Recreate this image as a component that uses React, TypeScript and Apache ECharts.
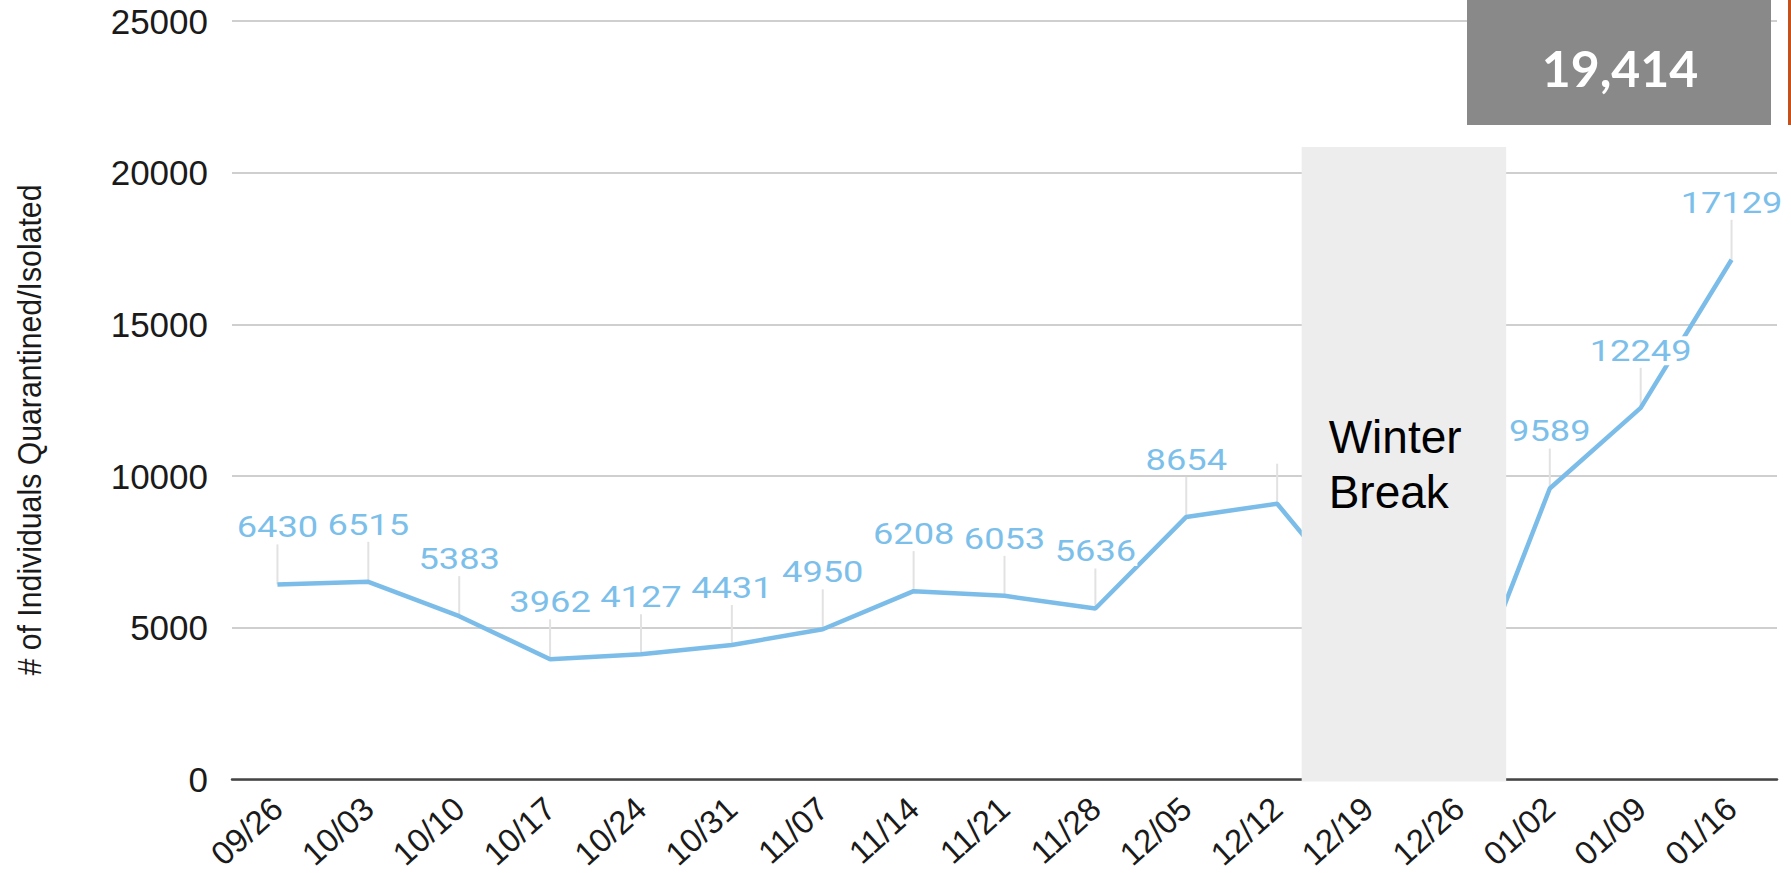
import React, { useEffect, useRef } from "react";
import * as echarts from "echarts";

const categories = ["09/26", "10/03", "10/10", "10/17", "10/24", "10/31", "11/07", "11/14", "11/21", "11/28", "12/05", "12/12", "12/19", "12/26", "01/02", "01/09", "01/16"];
const values = [6430, 6515, 5383, 3962, 4127, 4431, 4950, 6208, 6053, 5636, 8654, 9090, 5470, 1880, 9589, 12249, 17129];
const labelShown = [true, true, true, true, true, true, true, true, true, true, true, false, false, false, true, true, true];
const yMin = 0;
const yMax = 25000;
const yInterval = 5000;
const totalText = "19,414";
const axisTitle = "# of Individuals Quarantined/Isolated";
const breakText = "Winter\nBreak";
// winter break band, in category-index units and value units
const breakFrom = 11.27;
const breakTo = 13.52;
const breakTop = 20850;

export default function App() {
  const ref = useRef<HTMLDivElement>(null);
  useEffect(() => {
    document.body.style.margin = "0";
    document.body.style.overflow = "hidden";
    const chart = echarts.init(ref.current!, null, { renderer: "svg" });
    const n = categories.length;
    const option: any = {
      animation: false,
      backgroundColor: "#ffffff",
      grid: { left: 232, top: 21, width: 1545, height: 759, containLabel: false },
      xAxis: [
        {
          type: "category",
          data: categories,
          boundaryGap: true,
          axisLine: { show: true, lineStyle: { color: "#454545", width: 2.5 } },
          axisTick: { show: false },
          axisLabel: { rotate: 42, fontSize: 33, color: "#1a1a1a", margin: 24, fontFamily: "Liberation Sans, Arial" },
        },
        { type: "value", show: false, min: -0.5, max: n - 0.5 },
      ],
      yAxis: {
        type: "value",
        min: yMin,
        max: yMax,
        interval: yInterval,
        axisLine: { show: false },
        axisTick: { show: false },
        axisLabel: {
          fontSize: 35,
          color: "#1a1a1a",
          margin: 24,
          fontFamily: "Liberation Sans, Arial",
          formatter: (v: number) => String(v),
        },
        splitLine: { lineStyle: { color: "#cfcfcf", width: 2 } },
      },
      series: [
        {
          type: "custom",
          xAxisIndex: 1,
          z: 1,
          silent: true,
          data: values.map((v, i) => [i, v]),
          renderItem: (params: any, api: any) => {
            const p = api.coord([api.value(0), api.value(1)]);
            return {
              type: "line",
              shape: { x1: p[0], y1: p[1], x2: p[0], y2: p[1] - 40 },
              style: { stroke: "#e2e2e2", lineWidth: 2 },
            };
          },
        },
        {
          type: "line",
          data: values,
          z: 2,
          symbol: "none",
          lineStyle: { color: "#7bbde8", width: 4.5 },
          itemStyle: { color: "#7bbde8" },
        },
        {
          type: "custom",
          xAxisIndex: 1,
          z: 3,
          silent: true,
          data: values.map((v, i) => [i, v, labelShown[i] ? 1 : 0]),
          renderItem: (params: any, api: any) => {
            if (!api.value(2)) return null;
            const p = api.coord([api.value(0), api.value(1)]);
            return {
              type: "text",
              x: p[0],
              y: p[1] - 57,
              scaleX: 1.25,
              style: {
                text: String(api.value(1)),
                fill: "#7cbfea",
                fontSize: 29,
                fontFamily: "Roboto",
                align: "center",
                verticalAlign: "middle",
                backgroundColor: "#ffffff",
                padding: [0, 1],
              },
            };
          },
        },
        {
          type: "custom",
          xAxisIndex: 1,
          z: 10,
          silent: true,
          clip: false,
          data: [[breakFrom, breakTop, breakTo]],
          encode: { x: [0, 2], y: 1 },
          renderItem: (params: any, api: any) => {
            const p1 = api.coord([api.value(0), api.value(1)]);
            const p2 = api.coord([api.value(2), 0]);
            return {
              type: "group",
              children: [
                {
                  type: "rect",
                  shape: { x: p1[0], y: p1[1], width: p2[0] - p1[0], height: p2[1] - p1[1] + 2 },
                  style: { fill: "#ededed" },
                },
                {
                  type: "text",
                  x: p1[0] + 27,
                  y: p1[1] + 263,
                  style: {
                    text: breakText,
                    fill: "#000000",
                    fontSize: 46,
                    lineHeight: 55,
                    fontFamily: "Liberation Sans, Arial",
                    align: "left",
                    verticalAlign: "top",
                  },
                },
              ],
            };
          },
        },
      ],
      graphic: [
        {
          type: "text",
          x: 29,
          y: 430,
          rotation: Math.PI / 2,
          scaleX: 0.89,
          style: {
            text: axisTitle,
            fill: "#1a1a1a",
            fontSize: 34,
            fontFamily: "Liberation Sans, Arial",
            align: "center",
            verticalAlign: "middle",
          },
        },
        {
          type: "rect",
          z: 20,
          shape: { x: 1467, y: 0, width: 304, height: 125 },
          style: { fill: "#898989" },
        },
        {
          type: "text",
          z: 21,
          x: 1620,
          y: 68,
          style: {
            text: totalText,
            fill: "#ffffff",
            fontSize: 50,
            fontWeight: "bold",
            fontFamily: "Lato, Open Sans",
            align: "center",
            verticalAlign: "middle",
          },
        },
        {
          type: "rect",
          z: 20,
          shape: { x: 1788, y: 0, width: 3, height: 125 },
          style: { fill: "#c4501b" },
        },
      ],
    };
    chart.setOption(option);
    return () => chart.dispose();
  }, []);
  return <div ref={ref} style={{ position: "absolute", left: 0, top: 0, width: 1791, height: 873, overflow: "hidden" }} />;
}
